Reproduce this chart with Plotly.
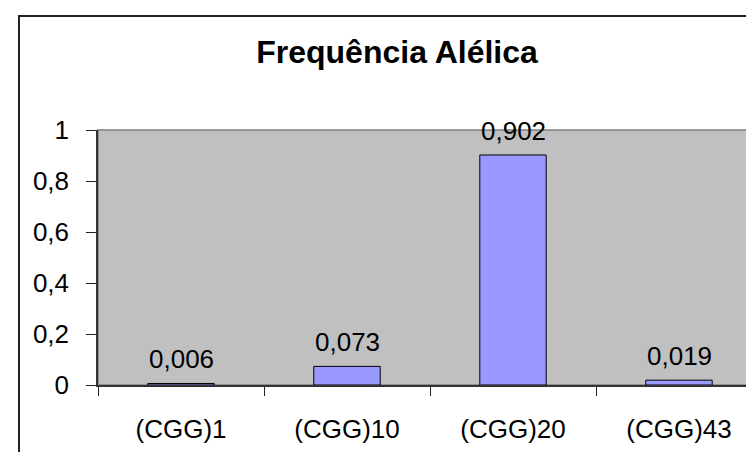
import plotly.graph_objects as go

categories = ["(CGG)1", "(CGG)10", "(CGG)20", "(CGG)43"]
frequencies = [0.006, 0.073, 0.902, 0.019]
y_ticks = [0, 0.2, 0.4, 0.6, 0.8, 1]
title_text = "Frequência Alélica"

FONT = "Liberation Sans, Arial, sans-serif"
W, H = 754, 452
ML, MR, MT, MB = 90, 0, 122, 75

fig = go.Figure()
fig.add_trace(go.Bar(
    x=categories, y=frequencies,
    marker=dict(color="#9999FF", line=dict(color="black", width=1)),
    hoverinfo="skip",
))

for c, v in zip(categories, frequencies):
    fig.add_annotation(
        x=c, y=v, xref="x", yref="y",
        text=f"{v:.3f}".replace(".", ","),
        showarrow=False, yanchor="bottom", yshift=7,
        font=dict(family=FONT, size=26, color="black"),
    )

pw = W - ML - MR
ph = H - MT - MB
# outer chart border (extends beyond canvas at right/bottom)
fig.add_shape(type="rect", xref="paper", yref="paper",
              x0=(11 - ML) / pw, x1=1 + 30 / pw,
              y0=-(MB + 30) / ph, y1=1 + (MT - 8) / ph,
              line=dict(color="#222222", width=2), fillcolor="rgba(0,0,0,0)", layer="above")
# plot area border
fig.add_shape(type="rect", xref="paper", yref="paper", x0=0, x1=1, y0=0, y1=1,
              line=dict(color="#808080", width=1.5), fillcolor="rgba(0,0,0,0)", layer="below")

fig.update_layout(
    width=W, height=H,
    margin=dict(l=ML, r=MR, t=MT, b=MB),
    paper_bgcolor="white", plot_bgcolor="#C0C0C0",
    bargap=0.6, showlegend=False,
    separators=",.",
    title=dict(text=f"<b>{title_text}</b>", x=389 / W, xanchor="center",
               y=1 - 44 / H, yanchor="middle", xref="container", yref="container",
               font=dict(family=FONT, size=32, color="black")),
    font=dict(family=FONT, size=26, color="black"),
)
fig.update_xaxes(
    type="category", tickson="boundaries", ticks="outside", ticklen=9,
    tickcolor="#222222", tickwidth=1, showline=True, linecolor="#333333", linewidth=1.5,
    showgrid=False, ticklabelstandoff=20,
    tickfont=dict(family=FONT, size=26, color="black"),
)
fig.update_yaxes(
    range=[0, 1], tickvals=y_ticks, ticks="outside", ticklen=10,
    tickcolor="#222222", tickwidth=1, showline=True, linecolor="#333333", linewidth=1.5,
    showgrid=False, zeroline=False, ticklabelstandoff=12,
    tickfont=dict(family=FONT, size=26, color="black"),
)

fig.write_html("out.html")
